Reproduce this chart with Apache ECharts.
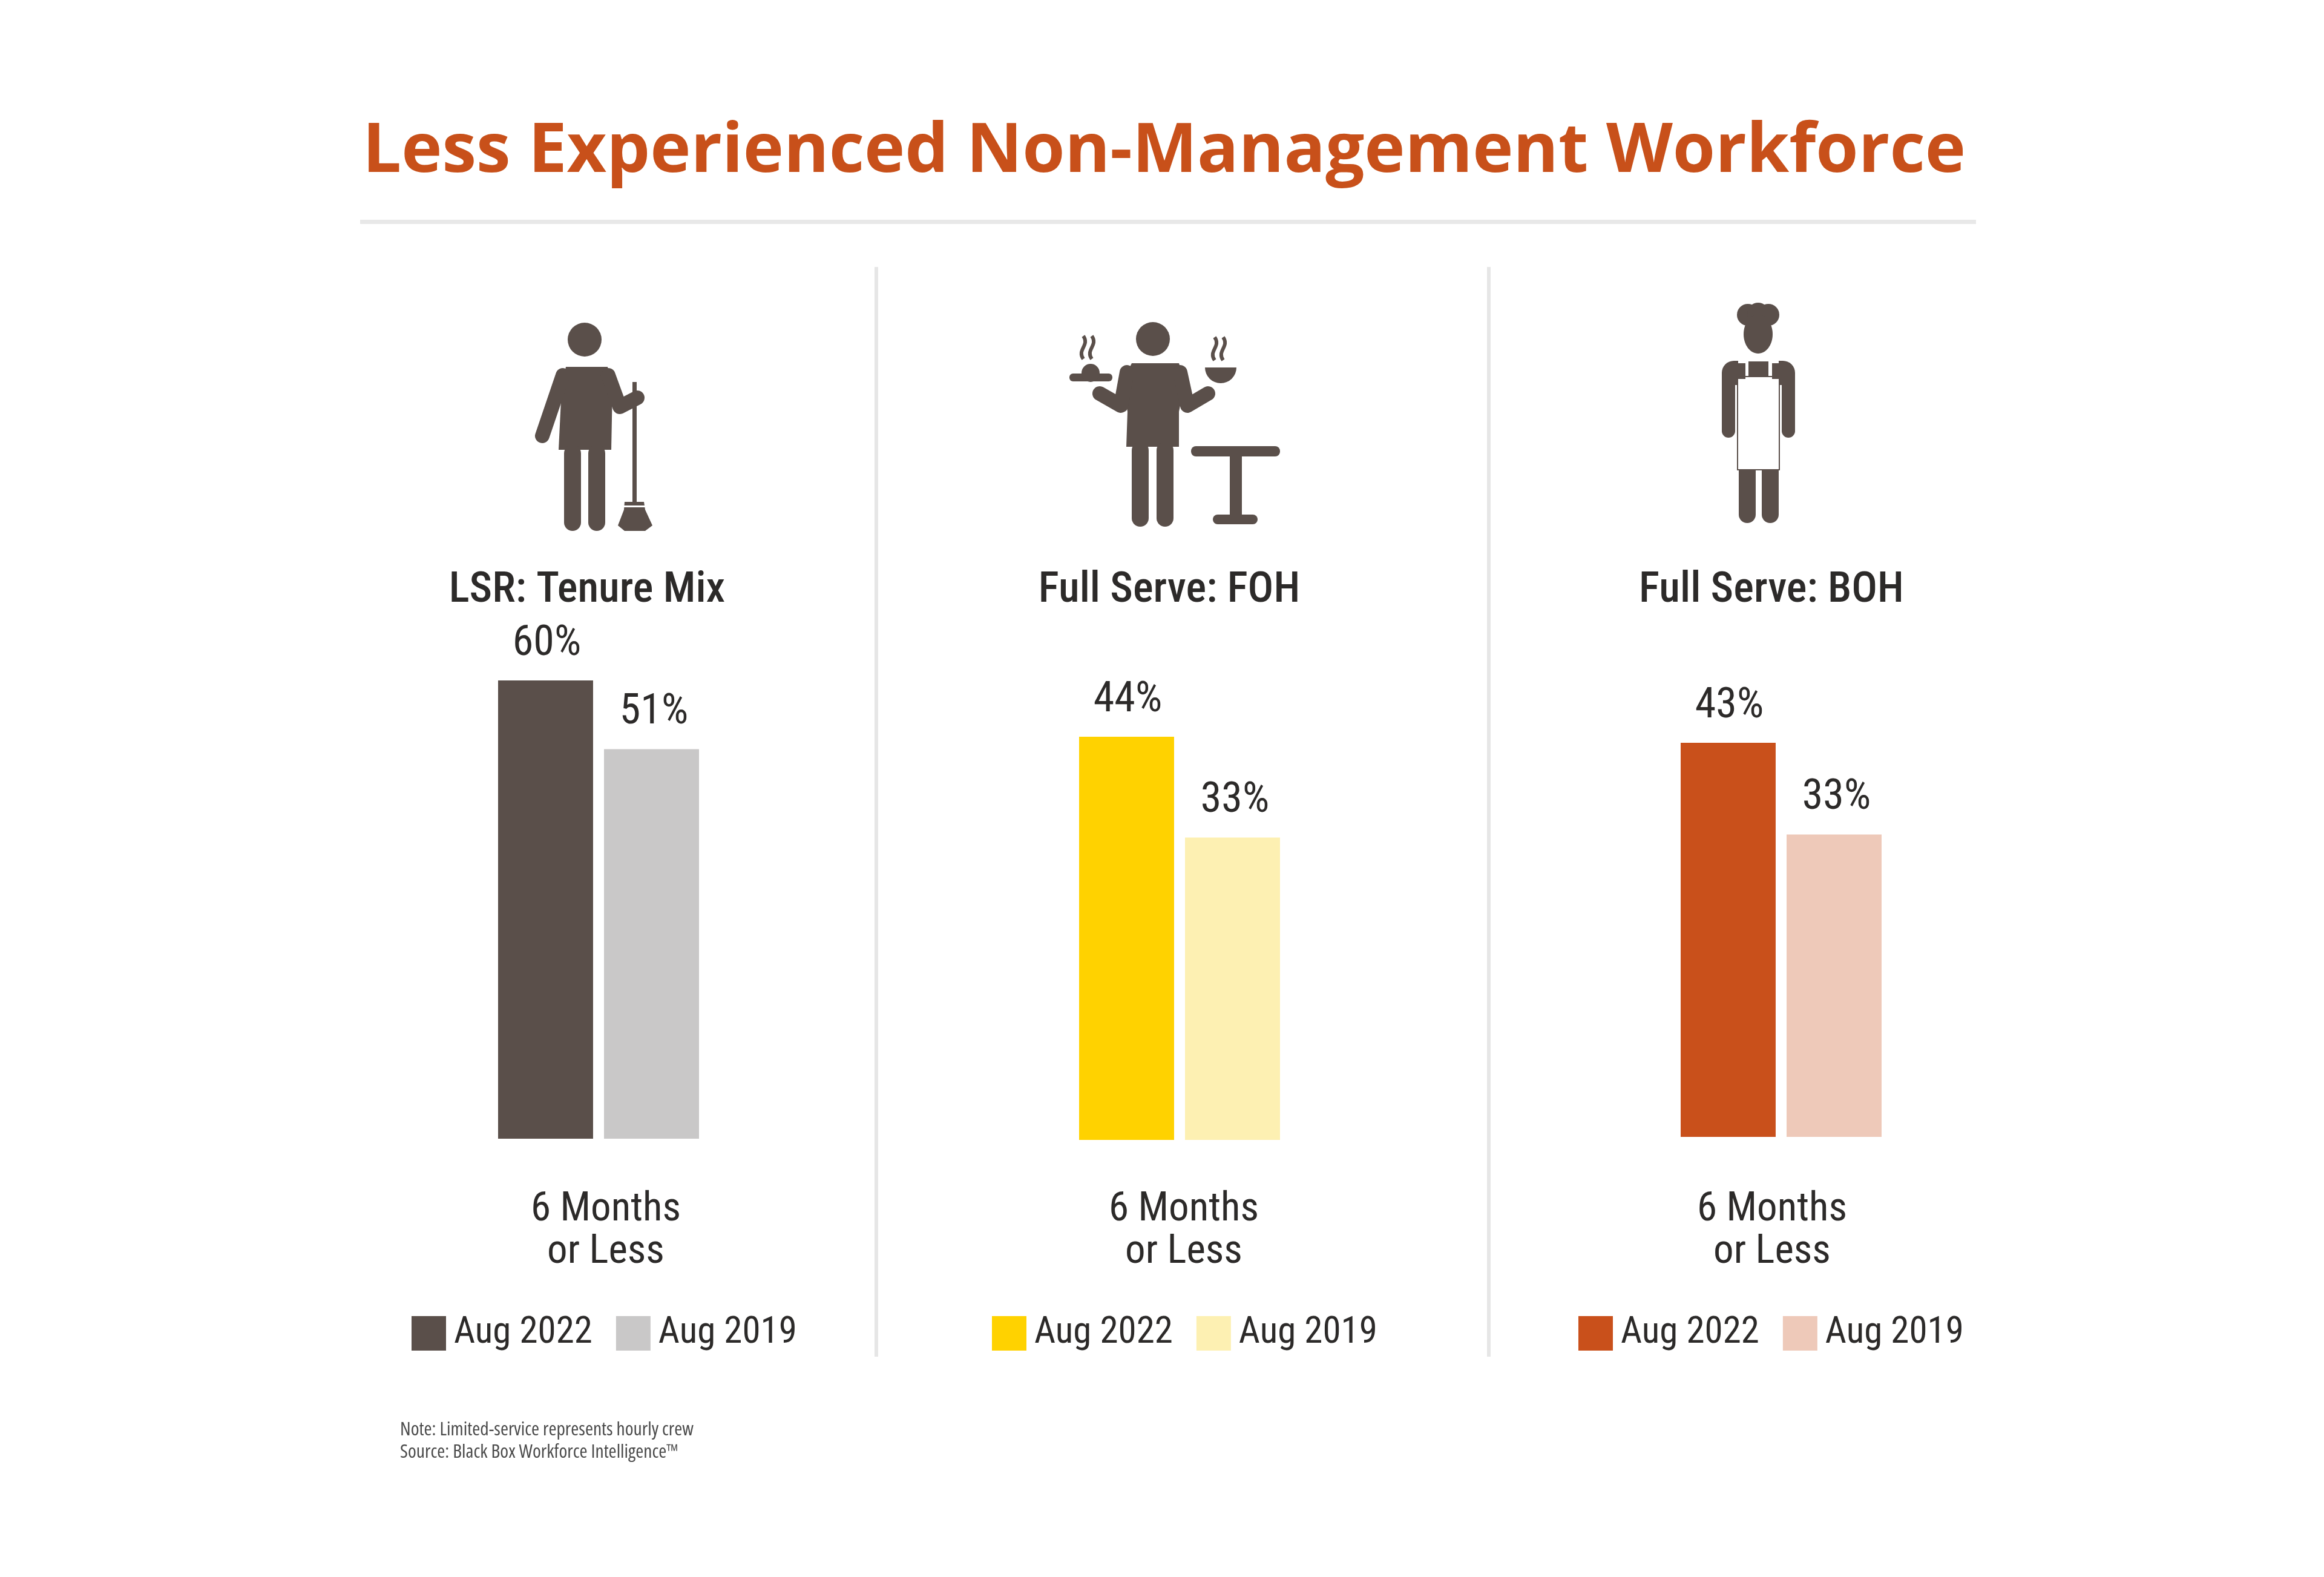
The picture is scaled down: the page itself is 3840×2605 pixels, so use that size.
<!DOCTYPE html>
<html><head><meta charset="utf-8">
<style>html,body{margin:0;padding:0;background:#fff}#c{width:3840px;height:2605px}</style>
<script src="https://cdn.jsdelivr.net/npm/echarts@6/dist/echarts.min.js"></script></head>
<body><div id="c"></div>
<script>
const chartTitle = 'Less Experienced Non-Management Workforce';
const panelTitles = ['LSR: Tenure Mix', 'Full Serve: FOH', 'Full Serve: BOH'];
const categories = ['6 Months\nor Less'];
const seriesNames = ['Aug 2022', 'Aug 2019'];
const values2022 = [60, 44, 43];
const values2019 = [51, 33, 33];
const colors2022 = ['#5A4F4A', '#FFD200', '#C9501B'];
const colors2019 = ['#C9C8C8', '#FDF0B2', '#EEC9B9'];
const notes = ['Note: Limited-service represents hourly crew', 'Source: Black Box Workforce Intelligence\u2122'];

const FAM = '"Roboto Condensed",sans-serif';
const INK = '#2C2A29', DARK = '#5A4F4A';
const layout = [
  {left: 823,  top: 1124, base: 1881, titleX: 970,  labelPad: [0,0,0,24], legendLeft: 680},
  {left: 1783, top: 1217, base: 1883, titleX: 1932, labelPad: [0,0,0,14], legendLeft: 1639},
  {left: 2777, top: 1227, base: 1878, titleX: 2927, labelPad: [0,30,0,0], legendLeft: 2608}
];

const chart = echarts.init(document.getElementById('c'), null, {renderer: 'canvas'});
const grid = [], xAxis = [], yAxis = [], series = [], legend = [];
layout.forEach((p, i) => {
  grid.push({left: p.left, top: p.top, width: 332, height: p.base - p.top});
  xAxis.push({gridIndex: i, type: 'category', data: categories, axisLine: {show: false}, axisTick: {show: false},
    axisLabel: {interval: 0, margin: 1964 - p.base, fontFamily: FAM, fontSize: 67, lineHeight: 70, color: INK, padding: p.labelPad}});
  yAxis.push({gridIndex: i, type: 'value', min: 0, max: values2022[i], show: false});
  [[values2022, colors2022, seriesNames[0]], [values2019, colors2019, seriesNames[1]]].forEach(([vals, cols, nm], k) => {
    series.push({type: 'bar', name: nm, xAxisIndex: i, yAxisIndex: i, data: [vals[i]], barWidth: 157, barGap: '11.5%',
      itemStyle: {color: cols[i]}, silent: true,
      label: {show: true, position: 'top', distance: 25, formatter: '{c}%', fontFamily: FAM, fontSize: 70, color: INK, offset: [k ? 4 : 2, 0]}});
  });
  legend.push({left: p.legendLeft, top: 2172, padding: 0, orient: 'horizontal', icon: 'rect', itemWidth: 57, itemHeight: 57, itemGap: 39, selectedMode: false,
    textStyle: {fontFamily: FAM, fontSize: 61, color: INK, padding: [16, 0, 0, 8]},
    data: [{name: seriesNames[0], itemStyle: {color: colors2022[i]}}, {name: seriesNames[1], itemStyle: {color: colors2019[i]}}]});
});

/* ---- decoration helpers ---- */
const F = {fill: DARK};
const rr = (x, y, w, h, r, fill) => ({type: 'rect', shape: {x, y, width: w, height: h, r: r || 0}, style: {fill: fill || DARK}});
const circ = (cx, cy, r) => ({type: 'circle', shape: {cx, cy, r}, style: F});
const ell = (cx, cy, rx, ry) => ({type: 'ellipse', shape: {cx, cy, rx, ry}, style: F});
const poly = pts => ({type: 'polygon', shape: {points: pts}, style: F});
const limb = (pts, w) => ({type: 'polyline', shape: {points: pts}, style: {stroke: DARK, lineWidth: w, fill: null, lineCap: 'round', lineJoin: 'round'}});
const steam = (x, y, h) => ({type: 'bezierCurve', shape: {x1: x, y1: y, x2: x, y2: y + h, cpx1: x + 11, cpy1: y + h * .4, cpx2: x - 11, cpy2: y + h * .6}, style: {stroke: DARK, lineWidth: 6, fill: null}});

const janitor = [
  circ(966, 561, 28),
  poly([[935,606],[1004,606],[1012,640],[1010,743],[923,743],[928,640]]),
  rr(932, 735, 28, 142, 14), rr(972, 735, 28, 142, 14),
  limb([[930,620],[896,720]], 24), limb([[1005,620],[1024,672],[1053,657]], 24),
  rr(1045, 631, 7, 200),
  poly([[1032,829],[1064,829],[1066,842],[1078,868],[1066,877],[1032,877],[1021,868],[1031,842]]),
  {type: 'rect', shape: {x: 1030, y: 835, width: 36, height: 3}, style: {fill: '#fff'}}
];
const waiter = [
  circ(1905, 560, 28),
  poly([[1870,600],[1948,600],[1958,630],[1948,680],[1948,738],[1861,738],[1863,680],[1855,630]]),
  rr(1870, 730, 28, 140, 14), rr(1911, 730, 28, 140, 14),
  limb([[1862,615],[1852,670],[1817,650]], 24), limb([[1950,615],[1962,670],[1996,650]], 24),
  rr(1767, 617, 71, 13, 6), circ(1802, 616, 15),
  steam(1790, 555, 38), steam(1804, 555, 38),
  {type: 'sector', shape: {cx: 2017, cy: 607, r0: 0, r: 26, startAngle: 0, endAngle: Math.PI, clockwise: true}, style: F},
  steam(2007, 557, 38), steam(2021, 557, 38),
  rr(1968, 737, 147, 17, 8), rr(2032, 752, 20, 100), rr(2004, 850, 74, 16, 8)
];
const chef = [
  circ(2888, 520, 18), circ(2905, 518, 18), circ(2922, 520, 18), ell(2905, 552, 24, 32),
  rr(2845, 596, 27, 40, [20,0,0,0]), rr(2939, 596, 27, 40, [0,20,0,0]),
  rr(2845, 620, 22, 103, [0,0,11,11]), rr(2944, 620, 22, 103, [0,0,11,11]),
  rr(2889, 597, 33, 24),
  {type: 'rect', shape: {x: 2871, y: 622, width: 69, height: 154}, style: {fill: '#fff', stroke: DARK, lineWidth: 2}},
  rr(2873, 776, 28, 88, [0,0,14,14]), rr(2911, 776, 28, 88, [0,0,14,14]),
  rr(2870, 600, 14, 26), rr(2928, 600, 14, 26)
];

const text = (x, y, t, font, fill, align) => ({type: 'text', x, y, style: {text: t, font, fill, textAlign: align || 'left', textVerticalAlign: 'middle'}});

const graphic = [
  rr(595, 363, 2670, 7, 0, '#E8E8E8'),
  rr(1445, 441, 6, 1800, 0, '#E6E6E6'),
  rr(2457, 441, 6, 1800, 0, '#E6E6E6'),
  ...janitor, ...waiter, ...chef,
  ...panelTitles.map((t, i) => text(layout[i].titleX, 976, t, `500 71px ${FAM}`, INK, 'center')),
  text(661, 2362, notes[0], `condensed 31.5px "Open Sans"`, '#4A4A4A'),
  text(661, 2399, notes[1], `condensed 31.5px "Open Sans"`, '#4A4A4A')
];

chart.setOption({
  backgroundColor: '#fff', animation: false,
  title: {text: chartTitle, left: 594, top: 190, textStyle: {fontFamily: 'Open Sans', fontWeight: 700, fontSize: 113.7, color: '#C8501A'}},
  tooltip: {show: false}, grid, xAxis, yAxis, series, legend, graphic
});
</script></body></html>
